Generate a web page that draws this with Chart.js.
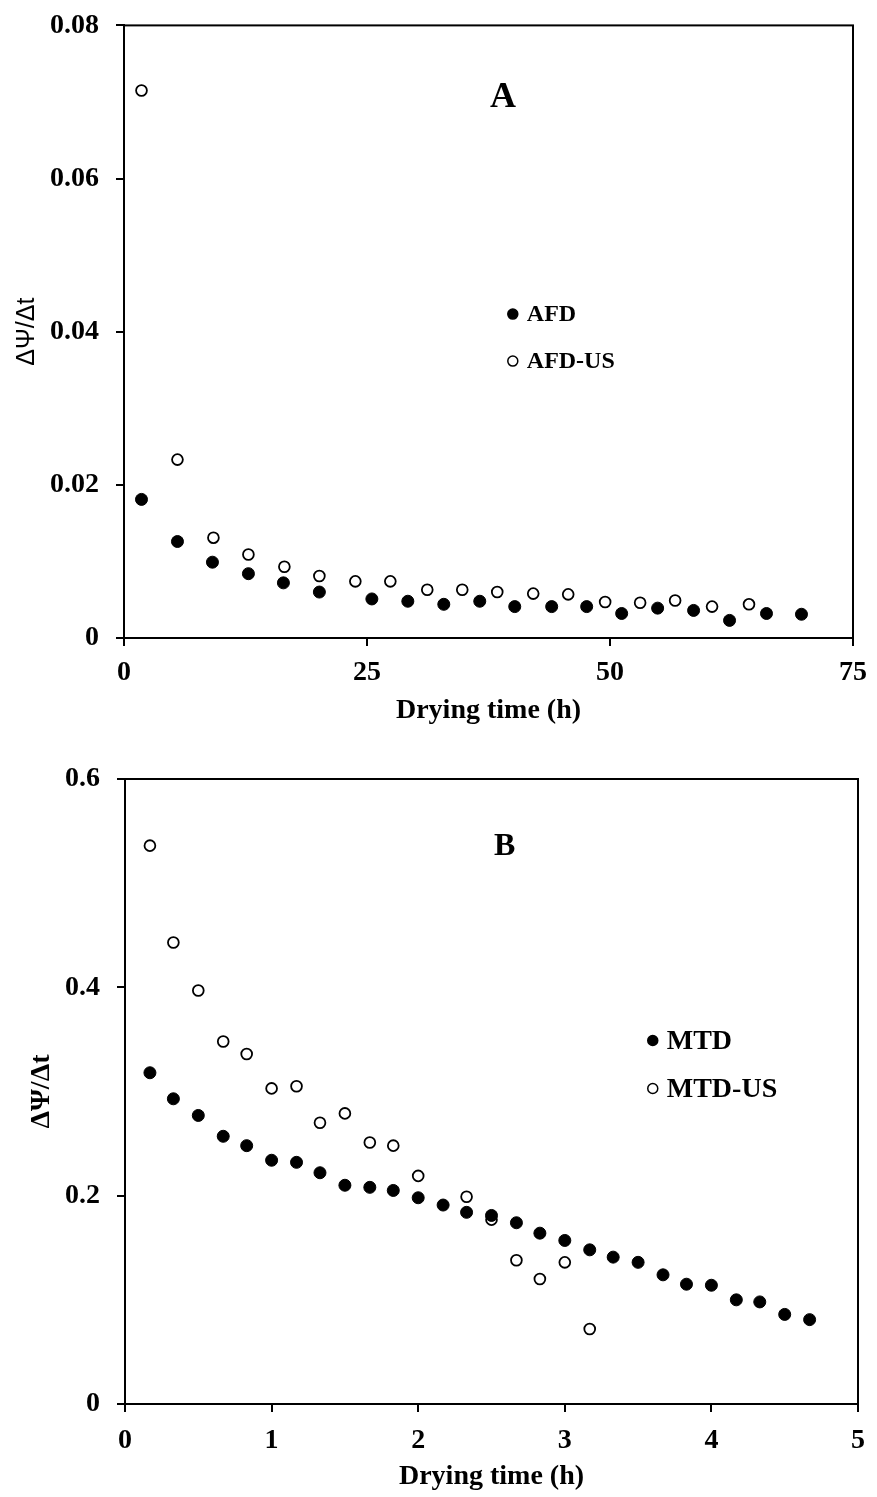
<!DOCTYPE html>
<html>
<head>
<meta charset="utf-8">
<script src="https://cdn.jsdelivr.net/npm/chart.js@4.4.0/dist/chart.umd.min.js"></script>
<style>
  html, body { margin: 0; padding: 0; background: #fff; }
  .box { position: relative; width: 877px; }
  #boxA { height: 735px; }
  #boxB { height: 762px; }
</style>
</head>
<body>
<div class="box" id="boxA"><canvas id="chartA"></canvas></div>
<div class="box" id="boxB"><canvas id="chartB"></canvas></div>
<script>
// panel A - drying time (h) vs dPsi/dt
const afdTime = [1.8, 5.5, 9.1, 12.8, 16.4, 20.1, 25.5, 29.2, 32.9, 36.6, 40.2, 44.0, 47.6, 51.2, 54.9, 58.6, 62.3, 66.1, 69.7];
const afdRate = [0.0181, 0.0126, 0.0099, 0.0084, 0.0072, 0.0060, 0.0051, 0.0048, 0.0044, 0.0048, 0.0041, 0.0041, 0.0041, 0.0032, 0.0039, 0.0036, 0.0023, 0.0032, 0.0031];
const afdUsTime = [1.8, 5.5, 9.2, 12.8, 16.5, 20.1, 23.8, 27.4, 31.2, 34.8, 38.4, 42.1, 45.7, 49.5, 53.1, 56.7, 60.5, 64.3];
const afdUsRate = [0.0715, 0.0233, 0.0131, 0.0109, 0.0093, 0.0081, 0.0074, 0.0074, 0.0063, 0.0063, 0.0060, 0.0058, 0.0057, 0.0047, 0.0046, 0.0049, 0.0041, 0.0044];

// panel B
const mtdTime = [0.17, 0.33, 0.5, 0.67, 0.83, 1.0, 1.17, 1.33, 1.5, 1.67, 1.83, 2.0, 2.17, 2.33, 2.5, 2.67, 2.83, 3.0, 3.17, 3.33, 3.5, 3.67, 3.83, 4.0, 4.17, 4.33, 4.5, 4.67];
const mtdRate = [0.318, 0.293, 0.277, 0.257, 0.248, 0.234, 0.232, 0.222, 0.210, 0.208, 0.205, 0.198, 0.191, 0.184, 0.181, 0.174, 0.164, 0.157, 0.148, 0.141, 0.136, 0.124, 0.115, 0.114, 0.100, 0.098, 0.086, 0.081];
const mtdUsTime = [0.17, 0.33, 0.5, 0.67, 0.83, 1.0, 1.17, 1.33, 1.5, 1.67, 1.83, 2.0, 2.33, 2.5, 2.67, 2.83, 3.0, 3.17];
const mtdUsRate = [0.536, 0.443, 0.397, 0.348, 0.336, 0.303, 0.305, 0.270, 0.279, 0.251, 0.248, 0.219, 0.199, 0.177, 0.138, 0.120, 0.136, 0.072];

const xTitle = 'Drying time (h)';
const yTitle = 'ΔΨ/Δt';

Chart.defaults.font.family = '"Liberation Serif", "Times New Roman", serif';
Chart.defaults.font.weight = 'bold';
Chart.defaults.color = '#000';

const toPoints = (xs, ys) => xs.map((x, i) => ({ x: x, y: ys[i] }));

// frame, panel letter and the little legend inside the plot
const extras = {
  id: 'extras',
  afterDatasetsDraw(chart, args, opts) {
    const { ctx, chartArea: a, scales: { x, y } } = chart;
    ctx.save();
    ctx.strokeStyle = '#000';
    ctx.lineWidth = 2;
    ctx.strokeRect(a.left, a.top, a.right - a.left, a.bottom - a.top);

    ctx.fillStyle = '#000';
    ctx.textAlign = 'center';
    ctx.textBaseline = 'middle';
    ctx.font = `bold ${opts.letterSize}px "Liberation Serif"`;
    ctx.fillText(opts.letter, x.getPixelForValue(opts.letterAt[0]), y.getPixelForValue(opts.letterAt[1]));

    const lx = x.getPixelForValue(opts.legendAt[0]);
    let ly = y.getPixelForValue(opts.legendAt[1]);
    ctx.font = `bold ${opts.legendSize}px "Liberation Serif"`;
    ctx.textAlign = 'left';
    chart.data.datasets.forEach(ds => {
      ctx.beginPath();
      ctx.arc(lx, ly, 5, 0, Math.PI * 2);
      ctx.fillStyle = ds.pointBackgroundColor;
      ctx.fill();
      ctx.lineWidth = 1.5;
      ctx.strokeStyle = '#000';
      ctx.stroke();
      ctx.fillStyle = '#000';
      ctx.fillText(ds.label, lx + 14, ly + 1);
      ly += opts.legendGap;
    });
    ctx.restore();
  }
};

function filled(label, pts) {
  return { label: label, data: pts, pointRadius: 6, pointBackgroundColor: '#000', pointBorderColor: '#000', pointBorderWidth: 1, showLine: false };
}
function hollow(label, pts) {
  return { label: label, data: pts, pointRadius: 5.4, pointBackgroundColor: '#fff', pointBorderColor: '#000', pointBorderWidth: 1.8, showLine: false };
}

function makeChart(id, p) {
  const tickGrid = { display: true, drawOnChartArea: false, drawTicks: true, tickLength: 8, color: '#000', lineWidth: 2 };
  return new Chart(document.getElementById(id), {
    type: 'scatter',
    data: { datasets: p.datasets },
    options: {
      responsive: true,
      maintainAspectRatio: false,
      animation: false,
      layout: { padding: { top: p.padTop, right: p.padRight, left: 0, bottom: 0 } },
      plugins: { legend: { display: false }, tooltip: { enabled: false }, extras: p.extras },
      scales: {
        x: {
          type: 'linear', min: p.xMin, max: p.xMax,
          ticks: { stepSize: p.xStep, padding: p.xTickPad, font: { size: 28 } },
          grid: tickGrid,
          border: { display: true, color: '#000', width: 2 },
          title: { display: true, text: xTitle, font: { size: 28 }, padding: { top: 0, bottom: p.xTitlePad } },
          afterFit: s => { s.height = p.xAxisH; }
        },
        y: {
          type: 'linear', min: p.yMin, max: p.yMax,
          ticks: { stepSize: p.yStep, padding: 17, font: { size: 28, lineHeight: 0.6 } },
          grid: tickGrid,
          border: { display: true, color: '#000', width: 2 },
          title: { display: true, text: yTitle, font: p.yTitleFont, padding: { top: p.yTitlePad, bottom: 0 } },
          afterFit: s => { s.width = p.yAxisW; }
        }
      }
    },
    plugins: [extras]
  });
}

makeChart('chartA', {
  datasets: [filled('AFD', toPoints(afdTime, afdRate)), hollow('AFD-US', toPoints(afdUsTime, afdUsRate))],
  xMin: 0, xMax: 75, xStep: 25, yMin: 0, yMax: 0.08, yStep: 0.02,
  padTop: 24, padRight: 20, xAxisH: 97, yAxisW: 124, xTickPad: 10, xTitlePad: 7,
  yTitleFont: { family: '"Liberation Sans", sans-serif', weight: 'normal', size: 25 }, yTitlePad: 12,
  extras: { letter: 'A', letterSize: 36, letterAt: [39, 0.0705], legendAt: [40, 0.0423], legendSize: 24, legendGap: 47 }
});

makeChart('chartB', {
  datasets: [filled('MTD', toPoints(mtdTime, mtdRate)), hollow('MTD-US', toPoints(mtdUsTime, mtdUsRate))],
  xMin: 0, xMax: 5, xStep: 1, yMin: 0, yMax: 0.6, yStep: 0.2,
  padTop: 44, padRight: 18, xAxisH: 93, yAxisW: 125, xTickPad: 12, xTitlePad: 3,
  yTitleFont: { size: 28, weight: 'bold' }, yTitlePad: 25,
  extras: { letter: 'B', letterSize: 32, letterAt: [2.59, 0.535], legendAt: [3.6, 0.349], legendSize: 28, legendGap: 48 }
});
</script>
</body>
</html>
